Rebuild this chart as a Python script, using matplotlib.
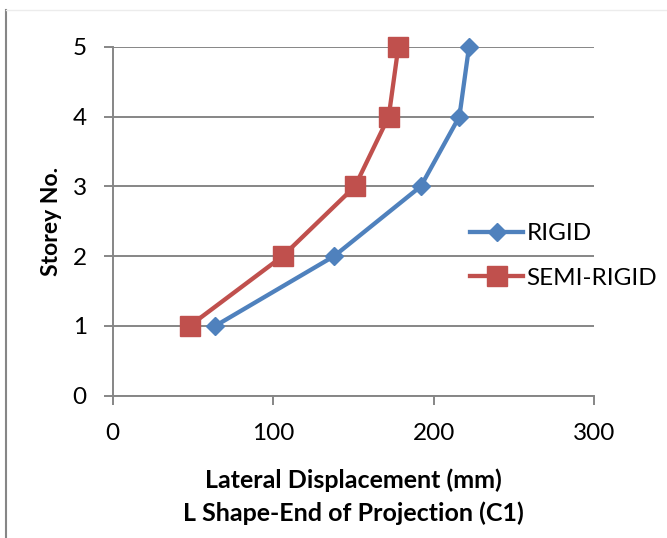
import matplotlib
matplotlib.use("Agg")
import matplotlib.pyplot as plt
from matplotlib.lines import Line2D

plt.rcParams['font.family'] = ['Lato', 'DejaVu Sans']

storey = [1, 2, 3, 4, 5]
rigid = [64, 138, 192, 216, 222]
semi_rigid = [48, 106, 151, 172, 178]

x_ticks = [0, 100, 200, 300]
y_ticks = [0, 1, 2, 3, 4, 5]

grey = '#868686'

fig = plt.figure(figsize=(6.67, 5.38), dpi=100)
ax = fig.add_axes([112.5 / 667, 1 - 395.7 / 538, (594.3 - 112.5) / 667, (395.7 - 46.7) / 538])

ax.plot(rigid, storey, color='#4F81BD', lw=3.1, marker='D', markersize=9.5,
        label='RIGID', zorder=3, clip_on=False)
ax.plot(semi_rigid, storey, color='#C0504D', lw=3.1, marker='s', markersize=14,
        label='SEMI-RIGID', zorder=3, clip_on=False)

ax.set_xlim(0, 300)
ax.set_ylim(0, 5)
ax.set_xticks(x_ticks)
ax.set_yticks(y_ticks)

# horizontal grid only
ax.yaxis.grid(True, color=grey, lw=1.4)
ax.set_axisbelow(True)

for side in ['top', 'right']:
    ax.spines[side].set_visible(False)
for side in ['left', 'bottom']:
    ax.spines[side].set_color(grey)
    ax.spines[side].set_linewidth(1.4)

ax.tick_params(axis='both', colors=grey, labelcolor='black', labelsize=17.5,
               length=6.5, width=1.4, direction='out')
ax.tick_params(axis='y', pad=12)
ax.tick_params(axis='x', pad=13)

ax.set_xlabel('Lateral Displacement (mm)\nL Shape-End of Projection (C1)',
              fontsize=18, fontweight='bold', labelpad=18, linespacing=1.45)
ax.set_ylabel('Storey No.', fontsize=16.5, fontweight='bold', labelpad=8)

ax.legend(loc='center left', bbox_to_anchor=(470 / 667, 1 - 256 / 538),
          bbox_transform=fig.transFigure, frameon=False, fontsize=17.5,
          handlelength=2.2, handletextpad=0.12, labelspacing=0.95,
          borderpad=0, borderaxespad=0)

# chart area border
fig.add_artist(Line2D([6 / 667, 6 / 667], [0, 1 - 10 / 538], color=grey, lw=1.5))
fig.add_artist(Line2D([6 / 667, 1], [1 - 10 / 538, 1 - 10 / 538], color='#ececec', lw=1.0))

fig.savefig('out.png', dpi=100)
